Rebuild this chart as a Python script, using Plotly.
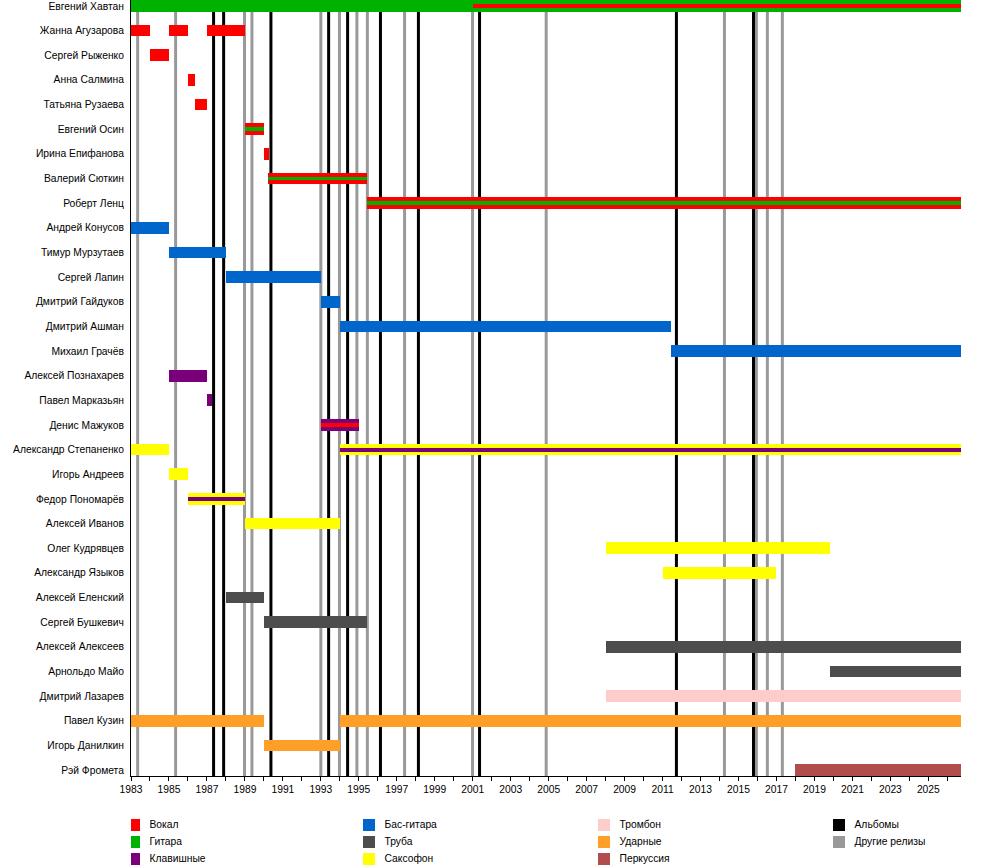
import plotly.graph_objects as go

END = 2026.72

members = [
    "Евгений Хавтан", "Жанна Агузарова", "Сергей Рыженко", "Анна Салмина",
    "Татьяна Рузаева", "Евгений Осин", "Ирина Епифанова", "Валерий Сюткин",
    "Роберт Ленц", "Андрей Конусов", "Тимур Мурзутаев", "Сергей Лапин",
    "Дмитрий Гайдуков", "Дмитрий Ашман", "Михаил Грачёв", "Алексей Познахарев",
    "Павел Марказьян", "Денис Мажуков", "Александр Степаненко", "Игорь Андреев",
    "Федор Пономарёв", "Алексей Иванов", "Олег Кудрявцев", "Александр Языков",
    "Алексей Еленский", "Сергей Бушкевич", "Алексей Алексеев", "Арнольдо Майо",
    "Дмитрий Лазарев", "Павел Кузин", "Игорь Данилкин", "Рэй Фромета",
]

# (member, start, end) — main bars per instrument
vocal = [
    ("Жанна Агузарова", 1983, 1984), ("Жанна Агузарова", 1985, 1986),
    ("Жанна Агузарова", 1987, 1989), ("Сергей Рыженко", 1984, 1985),
    ("Анна Салмина", 1986, 1986.37), ("Татьяна Рузаева", 1986.37, 1987),
    ("Евгений Осин", 1989, 1990), ("Ирина Епифанова", 1990, 1990.25),
    ("Валерий Сюткин", 1990.22, 1995.43), ("Роберт Ленц", 1995.43, END),
]
guitar = [("Евгений Хавтан", 1983, END)]
keys = [
    ("Алексей Познахарев", 1985, 1987), ("Павел Марказьян", 1987, 1987.27),
    ("Денис Мажуков", 1993, 1995),
]
bass = [
    ("Андрей Конусов", 1983, 1985), ("Тимур Мурзутаев", 1985, 1988),
    ("Сергей Лапин", 1988, 1993), ("Дмитрий Гайдуков", 1993, 1994),
    ("Дмитрий Ашман", 1994, 2011.43), ("Михаил Грачёв", 2011.43, END),
]
trumpet = [
    ("Алексей Еленский", 1988, 1990), ("Сергей Бушкевич", 1990, 1995.43),
    ("Алексей Алексеев", 2008, END), ("Арнольдо Майо", 2019.83, END),
]
sax = [
    ("Александр Степаненко", 1983, 1985), ("Александр Степаненко", 1994, END),
    ("Игорь Андреев", 1985, 1986), ("Федор Пономарёв", 1986, 1989),
    ("Алексей Иванов", 1989, 1994), ("Олег Кудрявцев", 2008, 2019.83),
    ("Александр Языков", 2011, 2017),
]
trombone = [("Дмитрий Лазарев", 2008, END)]
drums = [
    ("Павел Кузин", 1983, 1990), ("Павел Кузин", 1994, END),
    ("Игорь Данилкин", 1990, 1994),
]
percussion = [("Рэй Фромета", 2018, END)]

# secondary-instrument stripes drawn inside the main bars
vocal_stripes = [("Евгений Хавтан", 2001, END), ("Денис Мажуков", 1993, 1995)]
guitar_stripes = [
    ("Евгений Осин", 1989, 1990), ("Валерий Сюткин", 1990.22, 1995.43),
    ("Роберт Ленц", 1995.43, END),
]
keys_stripes = [("Александр Степаненко", 1994, END), ("Федор Пономарёв", 1986, 1989)]

albums = [1987.35, 1987.88, 1990.37, 1993.41, 1994.41, 1996.14, 1998.14,
          2001.36, 2011.73, 2015.79]
other_releases = [1983.35, 1985.35, 1988.98, 1989.37, 1993.0, 1993.98, 1994.9,
                  1995.45, 1997.41, 2000.99, 2004.87, 2014.26, 2015.94, 2016.52,
                  2017.31]

years = list(range(1983, 2027))
year_labels = [str(y) if y % 2 == 1 else "" for y in years]

colors = {
    "Вокал": "#FF0000", "Гитара": "#00B200", "Клавишные": "#7A007A",
    "Бас-гитара": "#0066CC", "Труба": "#4D4D4D", "Саксофон": "#FFFF00",
    "Тромбон": "#FFCCCC", "Ударные": "#FF9F27", "Перкуссия": "#B24D4D",
    "Альбомы": "#000000", "Другие релизы": "#999999",
}
legend_order = [
    ["Вокал", "Гитара", "Клавишные"],
    ["Бас-гитара", "Труба", "Саксофон"],
    ["Тромбон", "Ударные", "Перкуссия"],
    ["Альбомы", "Другие релизы"],
]

FONT = "Liberation Sans, Arial, sans-serif"
FS = 10.3
BAR_W = 0.475
STRIPE_W = BAR_W / 3

fig = go.Figure()


def add_bars(spans, color, width):
    fig.add_trace(go.Bar(
        orientation="h",
        y=[s[0] for s in spans],
        base=[s[1] for s in spans],
        x=[s[2] - s[1] for s in spans],
        width=width,
        marker=dict(color=color, line=dict(width=0)),
        showlegend=False, hoverinfo="skip",
        xaxis="x", yaxis="y",
    ))


for spans, key in [(vocal, "Вокал"), (guitar, "Гитара"), (keys, "Клавишные"),
                   (bass, "Бас-гитара"), (trumpet, "Труба"), (sax, "Саксофон"),
                   (trombone, "Тромбон"), (drums, "Ударные"),
                   (percussion, "Перкуссия")]:
    add_bars(spans, colors[key], BAR_W)

for spans, key in [(vocal_stripes, "Вокал"), (guitar_stripes, "Гитара"),
                   (keys_stripes, "Клавишные")]:
    add_bars(spans, colors[key], STRIPE_W)

for x in other_releases:
    fig.add_shape(type="line", xref="x", yref="y domain", x0=x, x1=x, y0=0, y1=1,
                  line=dict(color=colors["Другие релизы"], width=3), layer="below")
for x in albums:
    fig.add_shape(type="line", xref="x", yref="y domain", x0=x, x1=x, y0=0, y1=1,
                  line=dict(color=colors["Альбомы"], width=3), layer="below")

# legend drawn on its own small axes
lx, ly, lt = [], [], []
lc = []
for ci, col in enumerate(legend_order):
    for ri, name in enumerate(col):
        lx.append(ci)
        ly.append(ri)
        lt.append(name)
        lc.append(colors[name])
fig.add_trace(go.Scatter(
    x=lx, y=ly, mode="markers", xaxis="x2", yaxis="y2",
    marker=dict(symbol="square", size=12, color=lc, line=dict(width=0)),
    showlegend=False, hoverinfo="skip",
))
fig.add_trace(go.Scatter(
    x=[v + 0.066 for v in lx], y=ly, text=lt, mode="text", textposition="middle right",
    xaxis="x2", yaxis="y2", textfont=dict(family=FONT, size=FS, color="#000"),
    showlegend=False, hoverinfo="skip", cliponaxis=False,
))

H = 865
fig.update_layout(
    width=1000, height=H,
    margin=dict(l=131, r=39, t=0, b=0, autoexpand=False),
    paper_bgcolor="white", plot_bgcolor="white",
    barmode="overlay", bargap=0,
    font=dict(family=FONT, size=FS, color="#000"),
    xaxis=dict(
        range=[1983, END], tickvals=years, ticktext=year_labels,
        ticks="outside", ticklen=4, tickcolor="#000", tickwidth=1,
        showline=True, linecolor="#000", linewidth=1, showgrid=False,
        zeroline=False, tickfont=dict(size=FS), anchor="y", automargin=False,
    ),
    yaxis=dict(
        type="category", categoryorder="array", categoryarray=members,
        range=[31.24, -0.24], domain=[1 - 776 / H, 1],
        showline=True, linecolor="#000", linewidth=1, showgrid=False,
        ticks="", ticklabelstandoff=4, tickfont=dict(size=FS), anchor="x",
        automargin=False,
    ),
    xaxis2=dict(domain=[0, 1], range=[-3 / 235, -3 / 235 + 830 / 235],
                visible=False, anchor="y2", fixedrange=True, automargin=False),
    yaxis2=dict(domain=[0, 50 / H], range=[(50 - 10) / 17, -10 / 17],
                visible=False, anchor="x2", fixedrange=True, automargin=False),
)

fig.write_html(
    "out.html",
    config={"displayModeBar": False, "staticPlot": True},
    post_script="document.body.style.margin='0';document.body.style.padding='0';",
)
